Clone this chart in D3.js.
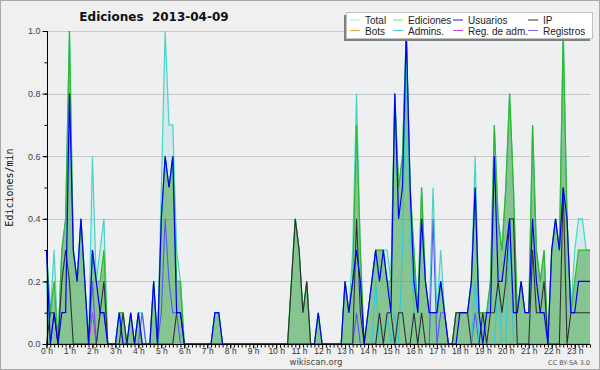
<!DOCTYPE html>
<html>
<head>
<meta charset="utf-8">
<script src="https://cdn.jsdelivr.net/npm/d3@7"></script>
<style>
  body { margin: 0; background: #fff; }
  svg { display: block; font-family: "DejaVu Sans", Verdana, sans-serif; }
</style>
</head>
<body>
<div id="chart"></div>
<script>
// 10-minute slots, 0:00 .. 23:40 (edits per minute)
const total = [
  0.3, 0.1, 0.3, 0, 0.3, 0.4,   1.0, 0.3, 0.2, 0.4, 0.2, 0,
  0.6, 0.2, 0.3, 0.4, 0, 0,     0, 0.1, 0.1, 0, 0.1, 0,
  0.1, 0.1, 0, 0, 0.2, 0,       0.5, 1.0, 0.7, 0.7, 0.3, 0.2,
  0, 0, 0, 0, 0, 0,             0, 0, 0.1, 0.1, 0, 0,
  0, 0, 0, 0, 0, 0,             0, 0, 0, 0, 0, 0,
  0, 0, 0, 0, 0.2, 0.4,         0.3, 0.1, 0.2, 0, 0, 0.1,
  0, 0, 0, 0, 0, 0,             0.2, 0.1, 0.3, 0.8, 0.3, 0,
  0.1, 0.2, 0.3, 0.3, 0.3, 0.3, 0.2, 0.8, 0.5, 0.6, 1.0, 0.5,
  0.3, 0.1, 0.5, 0.2, 0.1, 0.5, 0.1, 0.3, 0.1, 0, 0, 0.1,
  0.1, 0.1, 0.1, 0.2, 0.6, 0.1, 0.1, 0.1, 0.2, 0.7, 0.4, 0.3,
  0.5, 0.8, 0.5, 0.1, 0.2, 0.1, 0.1, 0.7, 0.3, 0.2, 0.3, 0,
  0.3, 0.4, 0.3, 1.0, 0.4, 0.1, 0.3, 0.4, 0.4, 0.3, 0.3
];
const edits = [
  0.3, 0.1, 0.2, 0, 0.3, 0.4,   1.0, 0.3, 0.2, 0.4, 0.2, 0,
  0.3, 0.2, 0.2, 0.3, 0, 0,     0, 0.1, 0.1, 0, 0.1, 0,
  0.1, 0, 0, 0, 0.2, 0,         0.4, 0.6, 0.5, 0.6, 0.2, 0.2,
  0, 0, 0, 0, 0, 0,             0, 0, 0.1, 0.1, 0, 0,
  0, 0, 0, 0, 0, 0,             0, 0, 0, 0, 0, 0,
  0, 0, 0, 0, 0.2, 0.4,         0.3, 0.1, 0.2, 0, 0, 0.1,
  0, 0, 0, 0, 0, 0,             0.2, 0.1, 0.2, 0.7, 0.3, 0,
  0.1, 0.2, 0.3, 0.3, 0.3, 0.2, 0.2, 0.8, 0.5, 0.6, 1.0, 0.5,
  0.3, 0.1, 0.5, 0.2, 0.1, 0.1, 0.1, 0.2, 0.1, 0, 0, 0.1,
  0.1, 0.1, 0.1, 0.2, 0.5, 0.1, 0.1, 0.1, 0.2, 0.7, 0.4, 0.3,
  0.5, 0.8, 0.5, 0.1, 0.2, 0.1, 0.1, 0.7, 0.3, 0.2, 0.3, 0,
  0.3, 0.4, 0.3, 1.0, 0.4, 0.1, 0.2, 0.3, 0.3, 0.3, 0.3
];
const users = [
  0.3, 0, 0.1, 0, 0.1, 0.1,     0.8, 0.3, 0.2, 0.4, 0.2, 0,
  0.3, 0.2, 0.1, 0.1, 0, 0,     0, 0.1, 0, 0, 0.1, 0,
  0.1, 0, 0, 0, 0.2, 0,         0.4, 0.6, 0.5, 0.6, 0.1, 0.1,
  0, 0, 0, 0, 0, 0,             0, 0, 0.1, 0.1, 0, 0,
  0, 0, 0, 0, 0, 0,             0, 0, 0, 0, 0, 0,
  0, 0, 0, 0, 0, 0,             0, 0, 0, 0, 0, 0.1,
  0, 0, 0, 0, 0, 0,             0.2, 0.1, 0.2, 0.3, 0.2, 0,
  0.1, 0.2, 0.3, 0.2, 0.3, 0.2, 0.1, 0.8, 0.4, 0.5, 1.0, 0.5,
  0.2, 0.1, 0.4, 0.2, 0.1, 0.1, 0.1, 0.2, 0.1, 0, 0, 0,
  0.1, 0.1, 0.1, 0.2, 0.5, 0.1, 0, 0.1, 0.1, 0.6, 0.2, 0.2,
  0.3, 0.4, 0.1, 0.1, 0.2, 0.1, 0.1, 0.4, 0.2, 0.1, 0.1, 0,
  0.3, 0.4, 0.3, 0.5, 0.4, 0.1, 0.1, 0.2, 0.2, 0.2, 0.2
];
const ip = [
  0, 0.1, 0.1, 0, 0.2, 0.3,     0.2, 0, 0, 0, 0, 0,
  0, 0, 0.1, 0.2, 0, 0,         0, 0, 0.1, 0, 0, 0,
  0, 0, 0, 0, 0, 0,             0, 0, 0, 0, 0.1, 0.1,
  0, 0, 0, 0, 0, 0,             0, 0, 0, 0, 0, 0,
  0, 0, 0, 0, 0, 0,             0, 0, 0, 0, 0, 0,
  0, 0, 0, 0, 0.2, 0.4,         0.3, 0.1, 0.2, 0, 0, 0,
  0, 0, 0, 0, 0, 0,             0, 0, 0, 0.4, 0.1, 0,
  0, 0, 0, 0.1, 0, 0.1,         0.1, 0, 0.1, 0.1, 0, 0,
  0.1, 0, 0.1, 0, 0, 0,         0, 0, 0, 0, 0, 0.1,
  0.1, 0.1, 0.1, 0, 0, 0,       0.1, 0, 0.1, 0.1, 0.2, 0.1,
  0.2, 0.4, 0.4, 0, 0, 0,       0, 0.3, 0.1, 0.1, 0.2, 0,
  0, 0, 0, 0.5, 0, 0.1,         0.1, 0.1, 0.1, 0.1, 0.1
];
const admins = [
  0.2, 0, 0, 0, 0, 0,           0, 0, 0, 0, 0, 0,
  0, 0, 0, 0, 0, 0,             0, 0.1, 0, 0, 0, 0,
  0, 0, 0, 0, 0, 0,             0, 0, 0, 0, 0, 0,
  0, 0, 0, 0, 0, 0,             0, 0, 0.1, 0.1, 0, 0,
  0, 0, 0, 0, 0, 0,             0, 0, 0, 0, 0, 0,
  0, 0, 0, 0, 0, 0,             0, 0, 0, 0, 0, 0,
  0, 0, 0, 0, 0, 0,             0, 0, 0, 0, 0, 0,
  0, 0, 0.2, 0, 0, 0.1,         0, 0.1, 0, 0.3, 0.9, 0.4,
  0.1, 0, 0, 0, 0, 0,           0, 0, 0, 0, 0, 0,
  0, 0, 0, 0, 0.2, 0,           0, 0, 0, 0, 0.2, 0,
  0, 0.4, 0, 0, 0, 0,           0, 0, 0, 0, 0, 0,
  0, 0, 0, 0, 0, 0,             0, 0, 0, 0, 0
];
const logs = [
  0, 0, 0.1, 0, 0, 0,           0, 0, 0, 0, 0, 0,
  0.2, 0, 0.1, 0.1, 0, 0,       0, 0, 0, 0, 0, 0,
  0, 0.1, 0, 0, 0, 0,           0.1, 0.4, 0.2, 0.1, 0.1, 0,
  0, 0, 0, 0, 0, 0,             0, 0, 0, 0, 0, 0,
  0, 0, 0, 0, 0, 0,             0, 0, 0, 0, 0, 0,
  0, 0, 0, 0, 0, 0,             0, 0, 0, 0, 0, 0,
  0, 0, 0, 0, 0, 0,             0, 0, 0, 0.1, 0, 0,
  0, 0, 0, 0, 0, 0,             0, 0, 0, 0, 0, 0,
  0, 0, 0, 0, 0, 0.4,           0, 0.1, 0.1, 0, 0, 0,
  0, 0, 0, 0, 0.1, 0,           0, 0, 0, 0, 0, 0,
  0, 0, 0, 0, 0, 0,             0, 0, 0, 0, 0, 0,
  0, 0, 0, 0, 0, 0,             0, 0, 0, 0, 0
];
const adminLogs = [
  0, 0, 0, 0, 0, 0,  0, 0, 0, 0, 0, 0,
  0.1, 0, 0, 0, 0, 0
];
const hourLabels = d3.range(24).map(h => `${h} h`);
const yTicks = [0, 0.2, 0.4, 0.6, 0.8, 1.0];

const legendItems = [
  { label: "Total", color: "#a8e4dc" },
  { label: "Ediciones", color: "#88d888" },
  { label: "Usuarios", color: "#2020c0" },
  { label: "IP", color: "#303030" },
  { label: "Bots", color: "#f0a040" },
  { label: "Admins.", color: "#40c8e0" },
  { label: "Reg. de adm.", color: "#d040d8" },
  { label: "Registros", color: "#7070f0" }
];

const width = 600;
const height = 370;
const margin = { top: 31, right: 10, bottom: 26, left: 46.5 };

const svg = d3.select("#chart")
  .append("svg")
  .attr("width", width)
  .attr("height", height);

// background + frame
svg.append("rect")
  .attr("x", 0.5).attr("y", 0.5)
  .attr("width", width - 1).attr("height", height - 1)
  .attr("fill", "#f0f0f0")
  .attr("stroke", "#a8a8a8");

const nPoints = total.length;
const xScale = d3.scaleLinear()
  .domain([0, nPoints - 1])
  .range([margin.left, 590]);

const yScale = d3.scaleLinear()
  .domain([0, 1])
  .range([height - margin.bottom, margin.top]);

// plot area
svg.append("rect")
  .attr("x", margin.left).attr("y", margin.top)
  .attr("width", 590 - margin.left).attr("height", yScale(0) - margin.top)
  .attr("fill", "#eeeff1");

// grid lines
svg.append("g")
  .selectAll("line")
  .data(yTicks.filter(d => d > 0))
  .join("line")
  .attr("x1", margin.left)
  .attr("x2", 590)
  .attr("y1", d => Math.round(yScale(d)) + 0.5)
  .attr("y2", d => Math.round(yScale(d)) + 0.5)
  .attr("stroke", "#c8c8c8");

const toPoints = arr => arr.map((v, i) => ({ i, v }));

const area = d3.area()
  .x(d => xScale(d.i))
  .y0(yScale(0))
  .y1(d => yScale(d.v));

const line = d3.line()
  .x(d => xScale(d.i))
  .y(d => yScale(d.v));

const plot = svg.append("g");

// Total: pale area
plot.append("path")
  .attr("d", area(toPoints(total)))
  .attr("fill", "#40d0c0")
  .attr("fill-opacity", 0.15);
plot.append("path")
  .attr("d", line(toPoints(total)))
  .attr("fill", "none")
  .attr("stroke", "#48d4c8")
  .attr("stroke-width", 1.2);

// Ediciones: green area
plot.append("path")
  .attr("d", area(toPoints(edits)))
  .attr("fill", "#38a038")
  .attr("fill-opacity", 0.5);
plot.append("path")
  .attr("d", line(toPoints(edits)))
  .attr("fill", "none")
  .attr("stroke", "#30b830")
  .attr("stroke-width", 1.2);

// other series as plain lines
const lineSeries = [
  { values: adminLogs, color: "#c030e0", w: 1 },
  { values: logs, color: "#5858f0", w: 1.1 },
  { values: admins, color: "#30c8dc", w: 1.1 },
  { values: ip, color: "#303030", w: 1.1 },
  { values: users, color: "#0000f0", w: 1.2 }
];

lineSeries.forEach(s => {
  plot.append("path")
    .attr("d", line(toPoints(s.values)))
    .attr("fill", "none")
    .attr("stroke", s.color)
    .attr("stroke-width", s.w);
});

// Y axis: minor ticks every 0.1, labelled every 0.2
const yAxisMinor = d3.axisLeft(yScale)
  .tickValues(d3.range(0, 1.01, 0.1))
  .tickSize(3)
  .tickFormat("");
const yAxisMajor = d3.axisLeft(yScale)
  .tickValues(yTicks)
  .tickSize(5)
  .tickPadding(2)
  .tickFormat(d3.format(".1f"));

const yAxisX = Math.round(margin.left) + 0.5;
svg.append("g")
  .attr("transform", `translate(${yAxisX}, 0)`)
  .call(yAxisMinor)
  .call(g => g.select(".domain").remove());
svg.append("g")
  .attr("transform", `translate(${yAxisX}, 0)`)
  .call(yAxisMajor)
  .call(g => g.selectAll("text").attr("fill", "#444").style("font-size", "9px"))
  .call(g => g.select(".domain").attr("d", `M0,${yScale(1)}V${yScale(0)}`));

// X axis: one tick per slot, labelled every hour
const xAxisY = Math.round(yScale(0)) + 0.5;
const xAxisMinor = d3.axisBottom(xScale)
  .tickValues(d3.range(0, nPoints))
  .tickSize(3)
  .tickFormat("");
const xAxisMajor = d3.axisBottom(xScale)
  .tickValues(d3.range(0, nPoints, 6))
  .tickSize(4)
  .tickPadding(0)
  .tickFormat((d, i) => hourLabels[i]);

svg.append("g")
  .attr("transform", `translate(0, ${xAxisY})`)
  .call(xAxisMinor)
  .call(g => g.select(".domain").remove());
svg.append("g")
  .attr("transform", `translate(0, ${xAxisY})`)
  .call(xAxisMajor)
  .call(g => g.select(".domain").attr("d", `M${margin.left},0H590`))
  .call(g => g.selectAll("text")
    .attr("y", 3)
    .attr("fill", "#333")
    .style("font-size", "8.5px"));

// Title
svg.append("text")
  .text("Ediciones  2013-04-09")
  .attr("x", 154)
  .attr("y", 21)
  .attr("text-anchor", "middle")
  .attr("font-weight", "bold")
  .style("font-size", "12px")
  .style("white-space", "pre")
  .attr("fill", "#111");

// Y axis label
svg.append("text")
  .text("Ediciones/min")
  .attr("transform", `translate(13, ${yScale(0.5)}) rotate(-90)`)
  .attr("text-anchor", "middle")
  .style("font-family", "'DejaVu Sans Mono', monospace")
  .style("font-size", "10px")
  .attr("fill", "#111");

// footer
svg.append("text")
  .text("wikiscan.org")
  .attr("x", 316)
  .attr("y", 365)
  .attr("text-anchor", "middle")
  .style("font-size", "8.5px")
  .attr("fill", "#444");

svg.append("text")
  .text("CC BY-SA 3.0")
  .attr("x", 590)
  .attr("y", 365)
  .attr("text-anchor", "end")
  .style("font-size", "6.5px")
  .attr("fill", "#555");

// Legend with drop shadow
const legend = svg.append("g")
  .attr("transform", "translate(346, 12)");

legend.append("rect")
  .attr("x", -2).attr("y", 3)
  .attr("width", 246).attr("height", 26)
  .attr("fill", "#808080");
legend.append("rect")
  .attr("x", 0.5).attr("y", 0.5)
  .attr("width", 246).attr("height", 26)
  .attr("fill", "#fff")
  .attr("stroke", "#c0c0c0");

const colX = [4, 47, 107, 182];
legendItems.forEach((item, idx) => {
  const col = idx % 4;
  const row = Math.floor(idx / 4);
  const rowG = legend.append("g")
    .attr("transform", `translate(${colX[col]}, ${8 + row * 10.5})`);
  rowG.append("line")
    .attr("x1", 0).attr("x2", 10)
    .attr("y1", 0).attr("y2", 0)
    .attr("stroke", item.color)
    .attr("stroke-width", 1);
  rowG.append("text")
    .text(item.label)
    .attr("x", 15)
    .attr("y", 4)
    .style("font-family", "'Liberation Sans', Arial, sans-serif")
    .style("font-size", "10px")
    .attr("fill", "#222");
});
</script>
</body>
</html>
